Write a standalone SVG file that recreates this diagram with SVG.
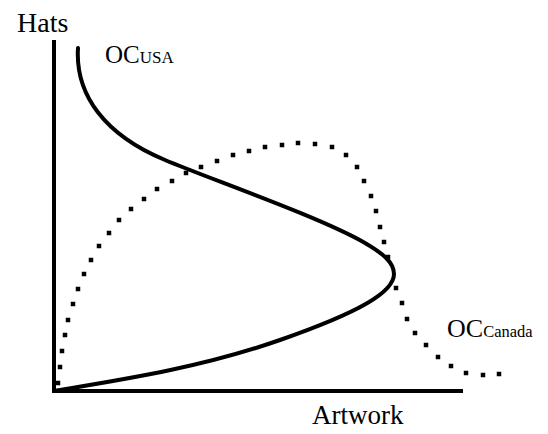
<svg xmlns="http://www.w3.org/2000/svg" width="548" height="434" viewBox="0 0 548 434">
  <style>
    .lbl { font-family: "Liberation Serif", "Times New Roman", serif; fill: #000; }
    .axis { stroke: #000; stroke-width: 4; fill: none; }
    .curve { stroke: #000; stroke-width: 4; fill: none; stroke-linecap: round; }
    .dots { stroke: #000; stroke-width: 4.5; fill: none; stroke-linecap: square; }
  </style>
  <rect width="548" height="434" fill="#fff"/>
  <g id="axes">
    <path class="axis" d="M54,40 V391 H463"/>
  </g>
  <g id="labels">
    <text class="lbl" x="17" y="32" font-size="28">Hats</text>
    <text class="lbl" x="312" y="424" font-size="27">Artwork</text>
    <text class="lbl" x="105" y="63" font-size="25">OC<tspan font-size="17">USA</tspan></text>
    <text class="lbl" x="447" y="337" font-size="26">OC<tspan font-size="16.5">Canada</tspan></text>
  </g>
  <g id="oc-usa">
    <path class="curve" d="M78,48 C75,95 105,135 165,160 C210,179 320,217 365,243 C382,253 394,262 394,274 C394,292 360,312 280,340 C200,368 120,380 54,391"/>
  </g>
  <g id="oc-canada">
    <path class="dots" d="M58,383h0M60,367h0M62,351h0M65,335h0M68,320h0M73,304h0M78,289h0M84,274h0M91,260h0M99,246h0M109,233h0M119,220h0M131,209h0M144,199h0M157,189h0M172,181h0M186,173h0M201,167h0M217,161h0M233,155h0M249,151h0M265,147h0M282,145h0M298,143h0M315,144h0M332,147h0M346,155h0M357,167h0M364,181h0M371,196h0M376,211h0M380,227h0M384,242h0M388,257h0M396,288h0M402,303h0M407,319h0M415,333h0M426,345h0M438,357h0M451,366h0M466,373h0M483,375h0M499,374h0"/>
  </g>
</svg>
